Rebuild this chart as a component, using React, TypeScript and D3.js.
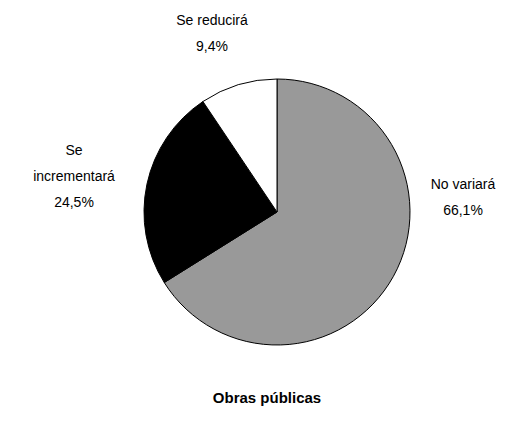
import { useEffect, useRef } from 'react'
import * as d3 from 'd3'

const categories = ['No variará', 'Se incrementará', 'Se reducirá']
const values = [66.1, 24.5, 9.4]
const labelLines = [['No variará', '66,1%'], ['Se', 'incrementará', '24,5%'], ['Se reducirá', '9,4%']]
const title = 'Obras públicas'

export default function App() {
  const ref = useRef<SVGSVGElement>(null)

  useEffect(() => {
    if (!ref.current) return
    const el = ref.current
    const width = 532
    const height = 428
    const cx = 277
    const cy = 212
    const radius = 133
    const fills = ['#999999', '#000000', '#ffffff']
    // label centers relative to pie centre
    const labelPos = [[186, -15], [-203, -36], [-65, -179]]

    d3.select(el).selectAll('*').remove()
    const svg = d3.select(el).attr('width', width).attr('height', height)

    svg.append('rect').attr('width', width).attr('height', height).attr('fill', '#fff')

    const pie = d3.pie<number>().sort(null).value(d => d)
    const arc = d3.arc<d3.PieArcDatum<number>>().innerRadius(0).outerRadius(radius)

    const g = svg.append('g').attr('transform', `translate(${cx},${cy})`)
    g.selectAll('path')
      .data(pie(values))
      .join('path')
      .attr('d', arc)
      .attr('fill', (_, i) => fills[i])
      .attr('stroke', '#000')
      .attr('stroke-width', 1)

    const lh = 26
    categories.forEach((_, i) => {
      const lines = labelLines[i]
      const [dx, dy] = labelPos[i]
      const t = g.append('text')
        .attr('text-anchor', 'middle')
        .attr('font-family', 'Liberation Sans, Arial, sans-serif')
        .attr('font-size', 14)
        .attr('fill', '#000')
      lines.forEach((ln, j) => {
        t.append('tspan')
          .attr('x', dx)
          .attr('y', dy + (j - (lines.length - 1) / 2) * lh + 5)
          .text(ln)
      })
    })

    svg.append('text')
      .attr('x', 267)
      .attr('y', 403)
      .attr('text-anchor', 'middle')
      .attr('font-family', 'Liberation Sans, Arial, sans-serif')
      .attr('font-size', 15)
      .attr('font-weight', 'bold')
      .text(title)
  }, [])

  return <svg ref={ref} style={{ display: 'block', position: 'absolute', left: 0, top: 0 }} />
}
